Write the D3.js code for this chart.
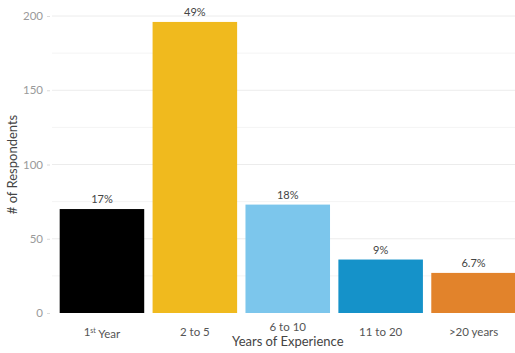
<!DOCTYPE html>
<html>
<head>
<meta charset="utf-8">
<script src="https://cdn.jsdelivr.net/npm/d3@7"></script>
<style>
  html, body { margin: 0; padding: 0; background: #fff; }
  svg { display: block; font-family: Lato, "Open Sans", sans-serif; }
</style>
</head>
<body>
<svg id="chart" width="515" height="353"></svg>
<script>
// Respondents by years of experience
const categories = ["1st Year", "2 to 5", "6 to 10", "11 to 20", ">20 years"];
const respondents = [70, 196, 73, 36, 27];
const shareLabels = ["17%", "49%", "18%", "9%", "6.7%"];
const barColors = ["#000000", "#F0BA1E", "#7CC6EC", "#1592C9", "#E2832B"];
const yTicks = [0, 50, 100, 150, 200];
const yMinorTicks = [25, 75, 125, 175];

const svg = d3.select("#chart");
const margin = { left: 55.5, right: -5 };
const W = 515;

const x = d3.scaleBand()
  .domain(categories)
  .range([margin.left, W - margin.right])
  .paddingInner(0.09)
  .paddingOuter(0.045);

const y = d3.scaleLinear()
  .domain([0, 200])
  .range([313, 16]);

// gridlines
const grid = svg.append("g");
grid.selectAll("line.minor")
  .data(yMinorTicks)
  .join("line")
  .attr("class", "minor")
  .attr("x1", 52).attr("x2", W)
  .attr("y1", d => y(d)).attr("y2", d => y(d))
  .attr("stroke", "#f4f4f4").attr("stroke-width", 1);
grid.selectAll("line.major")
  .data(yTicks.filter(d => d > 0))
  .join("line")
  .attr("class", "major")
  .attr("x1", 52).attr("x2", W)
  .attr("y1", d => y(d)).attr("y2", d => y(d))
  .attr("stroke", "#ececec").attr("stroke-width", 1);

// y axis
const yAxis = svg.append("g")
  .attr("transform", "translate(50,0)")
  .call(d3.axisLeft(y).tickValues(yTicks).tickSize(3).tickPadding(4));
yAxis.select(".domain").remove();
yAxis.selectAll(".tick line").attr("stroke", "#dcdcdc");
yAxis.selectAll(".tick text")
  .attr("fill", "#9a9a9a")
  .style("font-size", "11.5px")
  .style("font-family", "Lato, sans-serif");

// bars
svg.append("g").selectAll("rect")
  .data(categories)
  .join("rect")
  .attr("x", d => x(d))
  .attr("width", x.bandwidth())
  .attr("y", (d, i) => y(respondents[i]))
  .attr("height", (d, i) => y(0) - y(respondents[i]))
  .attr("fill", (d, i) => barColors[i]);

// percentage labels
svg.append("g").selectAll("text")
  .data(categories)
  .join("text")
  .attr("x", d => x(d) + x.bandwidth() / 2)
  .attr("y", (d, i) => y(respondents[i]) - 6)
  .attr("text-anchor", "middle")
  .attr("fill", "#444")
  .style("font-size", "11px")
  .text((d, i) => shareLabels[i]);

// x axis
const xAxis = svg.append("g")
  .attr("transform", `translate(0,${y(0)})`)
  .call(d3.axisBottom(x).tickSize(0).tickPadding(15));
xAxis.select(".domain").remove();
xAxis.selectAll(".tick text")
  .attr("fill", "#555")
  .style("font-size", "11.5px")
  .style("font-family", "Lato, sans-serif")
  .attr("dy", (d, i) => i === 2 ? "0.3em" : "0.71em")
  .each(function (d) {
    if (d === "1st Year") {
      const t = d3.select(this).text(null);
      t.append("tspan").text("1");
      t.append("tspan").attr("dy", "-0.4em").style("font-size", "7px").text("st");
      t.append("tspan").attr("dy", "0.4em").text(" Year");
    }
  });

// axis titles
svg.append("text")
  .attr("x", (x.range()[0] + x.range()[1]) / 2)
  .attr("y", 346)
  .attr("text-anchor", "middle")
  .attr("fill", "#444")
  .style("font-size", "13px")
  .text("Years of Experience");

svg.append("text")
  .attr("transform", `translate(17,${(y(0) + y(200)) / 2}) rotate(-90)`)
  .attr("text-anchor", "middle")
  .attr("fill", "#444")
  .style("font-size", "13px")
  .text("# of Respondents");
</script>
</body>
</html>
